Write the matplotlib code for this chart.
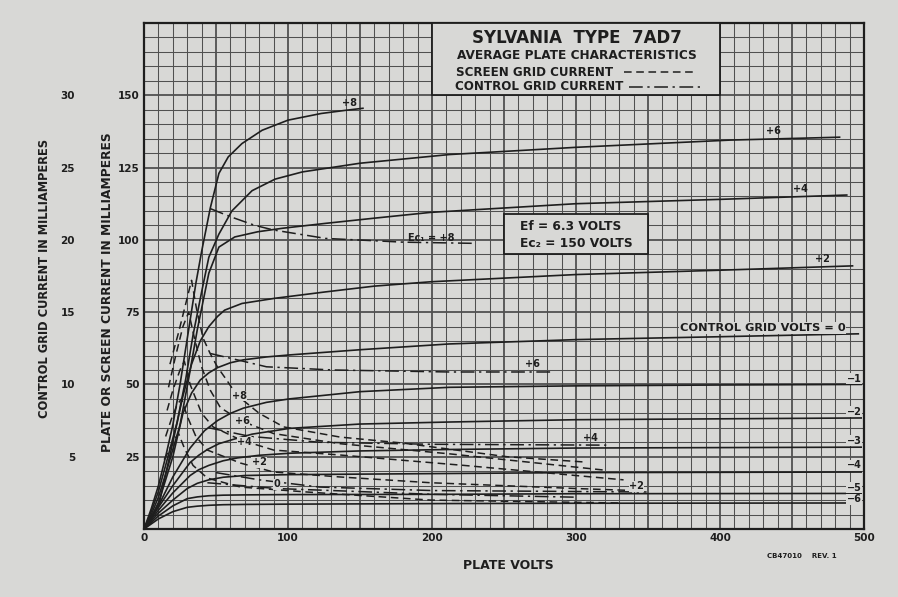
#Plate characteristics of the Sylvania 7AD7, redrawn from the data sheet.
#Plate and screen current are in mA on the plate scale, control grid current
#has its own scale (x5) on the far left.

import matplotlib.pyplot as plt
from matplotlib.patches import Rectangle
from matplotlib.lines import Line2D
import numpy as np

#Plate current curves, one per control grid voltage
grid_volts = ['+8', '+6', '+4', '+2', '0', '-1', '-2', '-3', '-4', '-5', '-6']
plate_v = [
    [0, 5, 10, 15, 20, 25, 31, 36, 40, 46, 52, 58.5, 68, 82, 100, 123, 140, 152],
    [0, 5, 10, 15, 23, 29, 34, 40, 45, 52, 61, 75, 91, 110, 126, 150, 212, 300, 407, 483],
    [0, 5, 10, 15, 25, 31, 37, 45, 52, 63, 79, 96, 126, 160, 199, 300, 400, 488],
    [0, 5, 11, 20, 27, 33, 39, 45, 51, 56, 68, 91, 126, 160, 199, 300, 400, 492],
    [0, 5, 10, 20, 27, 33, 39, 45, 51, 60, 69, 85, 101, 150, 212, 300, 400, 496],
    [0, 10, 20, 32, 42, 51, 60, 69, 85, 101, 150, 212, 300, 400, 498],
    [0, 10, 20, 32, 38, 44, 52, 62, 75, 101, 150, 212, 300, 498],
    [0, 10, 20, 32, 38, 45, 55, 65, 80, 101, 150, 212, 300, 498],
    [0, 10, 20, 30, 37, 45, 55, 70, 101, 212, 300, 498],
    [0, 10, 20, 30, 37, 45, 55, 70, 101, 212, 300, 498],
    [0, 10, 20, 30, 37, 45, 55, 70, 101, 212, 300, 498],
]
plate_ma = [
    [0, 7, 15, 25, 36, 50, 69, 85, 96, 111, 123, 128.7, 133.3, 137.9, 141.4, 143.7, 144.8, 145.5],
    [0, 6, 13, 22, 37, 52, 67, 82, 94, 102, 110, 117, 121, 123.5, 124.7, 126.5, 129.5, 132, 134.5, 135.5],
    [0, 5, 11, 19, 36, 52, 69, 88.5, 97.5, 101, 102.8, 104, 105.7, 107.5, 109.5, 112.5, 114, 115.5],
    [0, 4, 10, 30, 46, 57, 65, 70, 73.5, 75.7, 78, 79.8, 82, 84, 85.5, 88, 89.5, 91],
    [0, 4, 9, 25, 40, 47, 51.5, 54, 55.8, 57.5, 58.5, 59.5, 60.2, 62, 64, 65.5, 66.5, 67.5],
    [0, 8, 18, 28, 34, 37.5, 40, 41.8, 43.8, 45, 47.5, 49, 49.5, 49.8, 50],
    [0, 7.5, 15, 23, 25.5, 27.5, 29.5, 31, 32.8, 34.8, 36.3, 37, 37.8, 38.4],
    [0, 6.5, 12.5, 18.5, 20.5, 22, 23.6, 24.6, 25.5, 26.2, 27, 27.5, 28, 28.3],
    [0, 5.5, 10, 14, 15.8, 17, 17.9, 18.5, 18.8, 19.2, 19.5, 19.7],
    [0, 4.5, 8, 10.5, 11.1, 11.5, 11.7, 11.8, 11.9, 12, 12.2, 12.3],
    [0, 3.5, 6, 7.5, 7.9, 8.2, 8.4, 8.5, 8.6, 8.8, 8.9, 9],
]

#Screen grid current curves (dashed)
screen_volts = ['+8', '+6', '+4', '+2', '0']
screen_v = [
    [18, 24, 29, 33, 36.6, 41, 45.8, 51, 57.4, 64.4, 80, 97, 136, 180, 252, 305],
    [17, 22, 27, 31, 35, 40, 46, 53, 67, 90, 136, 212, 319],
    [16, 20, 25, 28, 32, 40, 48, 67, 90, 136, 222, 333],
    [15, 19, 23, 26, 30, 36, 44, 67, 90, 136, 199, 300, 340],
    [14, 18, 21, 24, 28, 34, 44, 67, 113, 199, 330],
]
screen_ma = [
    [57, 68, 78, 86, 75.7, 66, 60.8, 56, 51.5, 46.3, 40, 35.3, 31.8, 29.7, 25, 23.2],
    [49, 60, 70, 75, 66, 56, 48, 42, 37.5, 33, 29.5, 26, 20.4],
    [41, 48, 55, 58, 50, 40, 35.3, 30.8, 27.3, 25.6, 22, 17],
    [32, 38, 43, 45, 39, 32, 27.3, 22.8, 19.7, 18, 16, 14, 13.3],
    [24, 28, 31, 33, 28, 22, 17.6, 14.5, 12.8, 10, 9],
]

#Control grid current curves (dash-dot), in mA on the control grid scale
cg_volts = ['+8', '+6', '+4', '+2', '0']
cg_v = [
    [46, 60, 77, 90, 126, 180, 228],
    [46, 69, 85, 131, 212, 284],
    [45, 74, 122, 200, 321],
    [50, 80, 122, 200, 349],
    [44, 92, 136, 200, 300],
]
cg_ma = [
    [22.16, 21.6, 21.0, 20.68, 20.1, 19.84, 19.76],
    [12.14, 11.6, 11.22, 11.0, 10.86, 10.86],
    [7.0, 6.4, 6.0, 5.86, 5.8],
    [3.9, 3.4, 2.9, 2.66, 2.56],
    [3.2, 2.8, 2.64, 2.4, 2.2],
]
cg_scale = 5  #plate mA per control grid mA

x_ticks = [0, 100, 200, 300, 400, 500]
y_ticks = [25, 50, 75, 100, 125, 150]
cg_ticks = [5, 10, 15, 20, 25, 30]

paper = '#d8d8d6'
ink = '#1e1e1e'
gridc = '#505050'

plt.rcParams['font.family'] = ['DejaVu Sans']
plt.rcParams['font.weight'] = 'bold'

fig = plt.figure(figsize=(8.98, 5.97), dpi=100, facecolor=paper)
ax = fig.add_axes([0.1604, 0.1139, 0.8018, 0.8476])
ax.set_facecolor(paper)
ax.set_xlim(0, 500)
ax.set_ylim(0, 175)

#Graph paper
for v in range(0, 501, 10):
    ax.axvline(v, color=gridc, lw=1.3 if v % 50 == 0 else 0.75, zorder=1)
for i in range(0, 176, 5):
    ax.axhline(i, color=gridc, lw=1.3 if i % 25 == 0 else 0.75, zorder=1)

ax.set_xticks(x_ticks)
ax.set_yticks(y_ticks)
ax.tick_params(length=0, pad=3, labelsize=7.5, colors=ink)
for lab in ax.get_xticklabels() + ax.get_yticklabels():
    lab.set_fontweight('bold')
for s in ax.spines.values():
    s.set_color(ink)
    s.set_linewidth(1.6)

#Control grid current scale
sec = ax.secondary_yaxis(-0.092, functions=(lambda y: y / cg_scale, lambda y: y * cg_scale))
sec.set_yticks(cg_ticks)
sec.spines['left'].set_visible(False)
sec.tick_params(length=0, pad=2, labelsize=7.5, colors=ink)
for lab in sec.get_yticklabels():
    lab.set_fontweight('bold')

#Curves
for v, i in zip(plate_v, plate_ma):
    ax.plot(v, i, color=ink, lw=1.2, zorder=4, solid_joinstyle='round')
for v, i in zip(screen_v, screen_ma):
    ax.plot(v, i, color=ink, lw=1.1, ls=(0, (5, 3)), zorder=4)
for v, i in zip(cg_v, cg_ma):
    ax.plot(v, np.array(i) * cg_scale, color=ink, lw=1.1, ls=(0, (9, 3, 1.5, 3)), zorder=4)

lbl = dict(fontsize=7, fontweight='bold', color=ink, zorder=6)
bg = dict(boxstyle='square,pad=0.05', fc=paper, ec='none')

#Plate curve labels
ax.text(143, 147.5, grid_volts[0], ha='center', va='center', **lbl)
ax.text(437, 137.5, grid_volts[1], ha='center', va='center', **lbl)
ax.text(456, 117.5, grid_volts[2], ha='center', va='center', **lbl)
ax.text(471, 93.5, grid_volts[3], ha='center', va='center', **lbl)
ax.text(487, 69.5, 'CONTROL GRID VOLTS = ' + grid_volts[4], ha='right', va='center',
        bbox=bg, fontsize=8.2, fontweight='bold', color=ink, zorder=6)
for g, y in zip(grid_volts[5:], [52, 40.5, 30.5, 22, 14.3, 10.3]):
    ax.text(493, y, g.replace('-', '\u2212'), ha='center', va='center', bbox=bg, **lbl)

#Screen curve labels
for g, (x, y) in zip(screen_volts, [(66, 46), (68, 37.5), (70, 30), (80, 23), (92, 15.5)]):
    ax.text(x, y, g, ha='center', va='center', bbox=bg, **lbl)

#Control grid curve labels
ax.text(183, 98.8, 'Ec\u2081 = ' + cg_volts[0], ha='left', va='bottom', **lbl)
ax.text(270, 55.2, cg_volts[1], ha='center', va='bottom', **lbl)
ax.text(310, 29.6, cg_volts[2], ha='center', va='bottom', **lbl)
ax.text(342, 13.0, cg_volts[3], ha='center', va='bottom', bbox=bg, **lbl)

#Title box
ax.add_patch(Rectangle((200, 150), 200, 25, fc=paper, ec=ink, lw=1.3, zorder=5))
ax.text(300.5, 169.7, 'SYLVANIA  TYPE  7AD7', ha='center', va='center',
        fontsize=12, fontweight='bold', color=ink, zorder=6)
ax.text(300.5, 163.8, 'AVERAGE PLATE CHARACTERISTICS', ha='center', va='center',
        fontsize=8.7, fontweight='bold', color=ink, zorder=6)
ax.text(216.5, 158, 'SCREEN GRID CURRENT', ha='left', va='center',
        fontsize=8.6, fontweight='bold', color=ink, zorder=6)
ax.text(216, 153, 'CONTROL GRID CURRENT', ha='left', va='center',
        fontsize=8.6, fontweight='bold', color=ink, zorder=6)
ax.add_line(Line2D([333, 384], [158, 158], color=ink, lw=1.1, ls=(0, (5, 3)), zorder=6))
ax.add_line(Line2D([337, 386], [153, 153], color=ink, lw=1.1, ls=(0, (9, 3, 1.5, 3)), zorder=6))

#Operating conditions box
ax.add_patch(Rectangle((250, 95), 100, 13.8, fc=paper, ec=ink, lw=1.3, zorder=5))
ax.text(261, 104.5, 'Ef = 6.3 VOLTS', ha='left', va='center',
        fontsize=8.8, fontweight='bold', color=ink, zorder=6)
ax.text(261, 98.6, 'Ec\u2082 = 150 VOLTS', ha='left', va='center',
        fontsize=8.8, fontweight='bold', color=ink, zorder=6)

#Axis titles
fig.text(0.5657, 0.0536, 'PLATE VOLTS', ha='center', va='center',
         fontsize=9, fontweight='bold', color=ink)
fig.text(0.120, 0.511, 'PLATE OR SCREEN CURRENT IN MILLIAMPERES', ha='center', va='center',
         rotation=90, fontsize=8.8, fontweight='bold', color=ink)
fig.text(0.050, 0.534, 'CONTROL GRID CURRENT IN MILLIAMPERES', ha='center', va='center',
         rotation=90, fontsize=8.3, fontweight='bold', color=ink)
fig.text(0.893, 0.069, 'CB47010    REV. 1', ha='center', va='center',
         fontsize=5, fontweight='bold', color=ink)

fig.savefig('out.png', dpi=100, facecolor=paper)
